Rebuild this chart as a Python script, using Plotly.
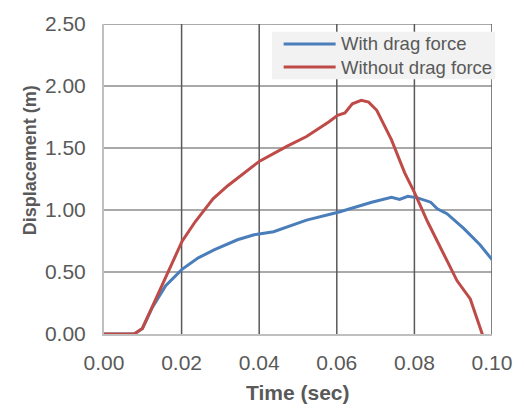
import plotly.graph_objects as go

# Data
time_with = [0, 0.0078, 0.0099, 0.0125, 0.0159, 0.0201, 0.0243, 0.0285, 0.0344, 0.0387,
             0.0437, 0.0522, 0.0606, 0.069, 0.0741, 0.0762, 0.0783, 0.0808, 0.0842,
             0.0859, 0.0884, 0.0927, 0.0969, 0.1]
disp_with = [0, 0, 0.045, 0.217, 0.389, 0.521, 0.614, 0.68, 0.76, 0.80,
             0.825, 0.918, 0.984, 1.063, 1.103, 1.085, 1.111, 1.098, 1.063,
             1.01, 0.97, 0.852, 0.72, 0.6]

time_without = [0, 0.0078, 0.0099, 0.0159, 0.0201, 0.0235, 0.0281, 0.0319, 0.0401, 0.0471,
                0.0522, 0.058, 0.0602, 0.0621, 0.064, 0.0663, 0.0682, 0.0703, 0.0741,
                0.0775, 0.08, 0.0834, 0.0876, 0.091, 0.0944, 0.0977]
disp_without = [0, 0, 0.045, 0.455, 0.746, 0.905, 1.09, 1.196, 1.394, 1.513,
                1.593, 1.712, 1.764, 1.783, 1.857, 1.884, 1.87, 1.804, 1.566,
                1.30, 1.143, 0.905, 0.64, 0.429, 0.283, -0.02]

series_names = ["With drag force", "Without drag force"]
series_colors = ["#4a7ebb", "#be4b48"]

x_ticks = [0, 0.02, 0.04, 0.06, 0.08, 0.10]
y_ticks = [0, 0.5, 1.0, 1.5, 2.0, 2.5]

FONT = "Liberation Sans, Arial, sans-serif"
TXT = "#595959"
HGRID = "#8c8c8c"
VGRID = "#595959"

fig = go.Figure()
fig.add_trace(go.Scatter(x=time_with, y=disp_with, mode="lines", name=series_names[0],
                         line=dict(color=series_colors[0], width=3), showlegend=False))
fig.add_trace(go.Scatter(x=time_without, y=disp_without, mode="lines", name=series_names[1],
                         line=dict(color=series_colors[1], width=3), showlegend=False))

fig.update_layout(
    width=524, height=408,
    margin=dict(l=104, r=25, t=19, b=74),
    paper_bgcolor="white", plot_bgcolor="white",
    font=dict(family=FONT, color=TXT),
    xaxis=dict(range=[0, 0.1], tickvals=x_ticks, tickformat=".2f",
               showgrid=False,
               showline=True, linecolor="#bfbfbf", linewidth=2, layer="below traces",
               zeroline=False, ticks="", tickfont=dict(size=21, color=TXT),
               ticklabelstandoff=9),
    yaxis=dict(range=[0, 2.5], tickvals=y_ticks, tickformat=".2f",
               showgrid=False,
               showline=True, linecolor="#bfbfbf", linewidth=2, layer="below traces",
               zeroline=False, ticks="", tickfont=dict(size=21, color=TXT),
               ticklabelstandoff=12),
)

# Gridlines drawn at tick positions, between plot background and traces
for yv in y_ticks[1:]:
    fig.add_shape(type="line", xref="paper", yref="y", x0=0, x1=1, y0=yv, y1=yv,
                  line=dict(color=HGRID, width=1.5), layer="between")
for xv in x_ticks[1:]:
    fig.add_shape(type="line", xref="x", yref="paper", x0=xv, x1=xv, y0=0, y1=1,
                  line=dict(color=VGRID, width=1.5), layer="between")

# Axis titles
fig.add_annotation(text="<b>Time (sec)</b>", xref="paper", yref="paper",
                   x=0.5, y=-0.19, xanchor="center", yanchor="middle",
                   showarrow=False, font=dict(size=21, color=TXT, family=FONT))
fig.add_annotation(text="<b>Displacement (m)</b>", xref="paper", yref="paper",
                   x=-0.192, y=0.559, xanchor="center", yanchor="middle", textangle=-90,
                   showarrow=False, font=dict(size=18, color=TXT, family=FONT))

# Legend (drawn manually)
fig.add_shape(type="rect", xref="paper", yref="paper", x0=0.433, x1=1.008, y0=0.822, y1=0.975,
              fillcolor="#f2f2f2", line=dict(width=0), layer="above")
for nm, col, yy in zip(series_names, series_colors, [0.9355, 0.861]):
    fig.add_shape(type="line", xref="paper", yref="paper", x0=0.463, x1=0.597, y0=yy, y1=yy,
                  line=dict(color=col, width=3), layer="above")
    fig.add_annotation(text=nm, xref="paper", yref="paper", x=0.606, y=yy,
                       xanchor="left", yanchor="middle", showarrow=False,
                       font=dict(size=18.5, color=TXT, family=FONT))

fig.write_html("out.html")
